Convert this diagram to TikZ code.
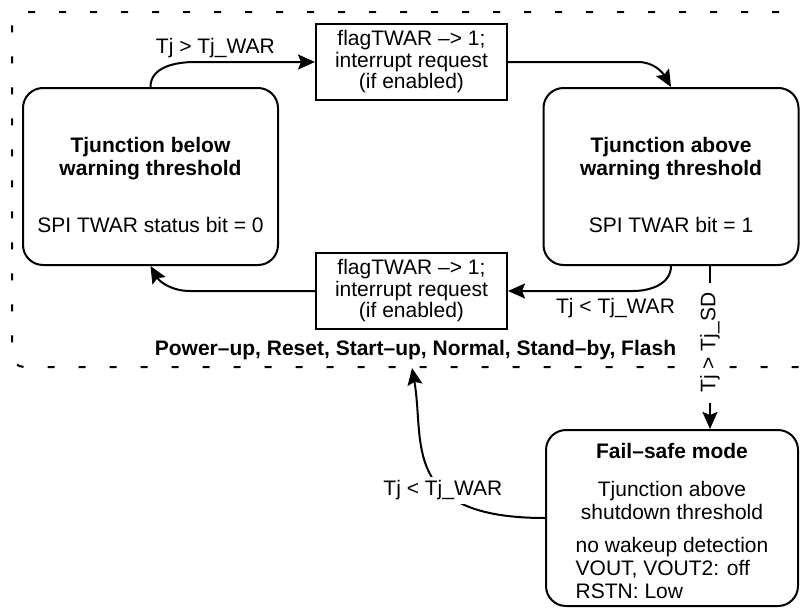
\documentclass[tikz,border=0pt]{standalone}
\usepackage{fontspec}
\setmainfont{Liberation Sans}
\usetikzlibrary{arrows.meta}
\tikzset{>={Stealth[length=17pt,width=15pt,inset=3pt]}}
\tikzset{
  state/.style={draw, fill=white, rounded corners=20pt, minimum width=255pt, minimum height=177pt, inner sep=0pt, align=center},
  flagbox/.style={draw, fill=white, minimum width=191pt, minimum height=76pt, inner sep=0pt, align=center, font=\fontsize{21}{21.5}\selectfont},
  cond/.style={fill=white, inner sep=4pt},
}

\begin{document}
\begin{tikzpicture}[x=1pt, y=-1pt, line width=2pt, font=\fontsize{21}{23}\selectfont]
    \useasboundingbox (0,0) rectangle (801,608);
    \node[draw, dash pattern=on 7pt off 24pt, rounded corners=12pt, minimum width=810pt, minimum height=355pt, inner sep=0pt] (modes) at (417,189.5) {};
    \node[anchor=base] (modelist) at (415.5,355) {\textbf{Power–up, Reset, Start–up, Normal, Stand–by, Flash}};

    \node[state] (lwarn) at (150.5,176.5) {\rule{0pt}{32pt}\textbf{Tjunction below}\\\textbf{warning threshold}\\[34pt]SPI TWAR status bit = 0};
    \node[state] (rwarn) at (671,176.5) {\rule{0pt}{32pt}\textbf{Tjunction above}\\\textbf{warning threshold}\\[34pt]SPI TWAR bit = 1};
    \node[flagbox] (tbox) at (411.5,62) {flagTWAR –> 1;\\interrupt request\\(if enabled)};
    \node[flagbox] (bbox) at (411.5,291) {flagTWAR –> 1;\\interrupt request\\(if enabled)};
    \node[state, minimum width=252pt, minimum height=176pt] (fsafe) at (672,518) {\rule{0pt}{28pt}\textbf{Fail–safe mode}\\[15pt]Tjunction above\\shutdown threshold\\[10pt]\begin{tabular}[t]{@{}l@{}}no wakeup detection\\VOUT, VOUT2: off\\RSTN: Low\end{tabular}};

    \draw[->] (lwarn.north) to[out=90,in=180] ([xshift=-120pt]tbox.west) -- node[above, pos=0.17] {Tj > Tj\_WAR} (tbox.west);
    \draw[->] (tbox.east) -- ([xshift=130pt]tbox.east) to[out=0,in=120] (rwarn.north);
    \draw[->] (rwarn.south) to[out=-90,in=0] ([xshift=125pt]bbox.east) -- node[below=3pt, pos=0.14] {Tj < Tj\_WAR} (bbox.east);
    \draw[->] (bbox.west) -- ([xshift=-125pt]bbox.west) to[out=180,in=-60] (lwarn.south);
    \draw[->] ([xshift=39pt]rwarn.south) -- node[cond, rotate=90, pos=0.47, inner xsep=10pt] {Tj > Tj\_SD} ([xshift=38pt]fsafe.north);
    \draw[->] (fsafe.west) .. controls +(-146,0) and +(13,73) .. node[cond, pos=0.37] {Tj < Tj\_WAR} ([xshift=-5pt]modes.south);
\end{tikzpicture}
\end{document}
